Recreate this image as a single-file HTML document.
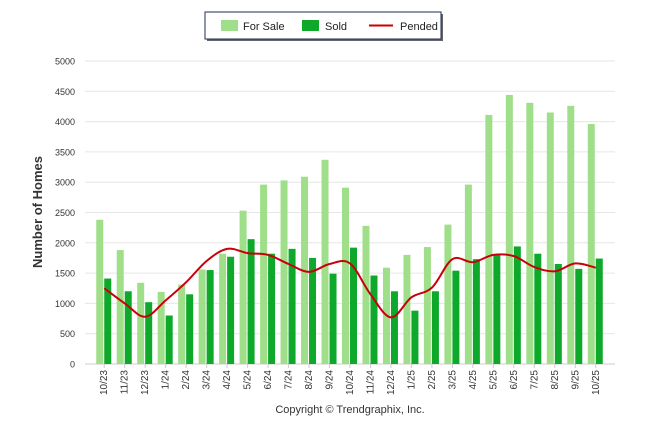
<!DOCTYPE html>
<html><head><meta charset="utf-8"><style>
body{margin:0;background:#fff;font-family:"Liberation Sans",sans-serif;}
</style></head><body>
<svg id="c" width="646" height="434" xmlns="http://www.w3.org/2000/svg">
<g>
<rect x="207" y="14" width="236" height="27" fill="#666"/>
<rect x="205" y="12" width="236" height="27" fill="#fff" stroke="#1f2d5a" stroke-width="1"/>
<rect x="221" y="20" width="17" height="11" fill="#a0df8a"/>
<text x="243" y="30" font-size="11" fill="#222">For Sale</text>
<rect x="302" y="20" width="17" height="11" fill="#0ea82a"/>
<text x="325" y="30" font-size="11" fill="#222">Sold</text>
<line x1="369" y1="25.5" x2="393" y2="25.5" stroke="#c00" stroke-width="2"/>
<text x="400" y="30" font-size="11" fill="#222">Pended</text>
</g>
<text transform="translate(42,212) rotate(-90)" text-anchor="middle" font-size="13" font-weight="bold" fill="#333">Number of Homes</text>
<g id="grid"></g><g id="bars"></g><g id="line"></g><g id="xl"></g>
<text x="350" y="413" text-anchor="middle" font-size="11" fill="#333">Copyright © Trendgraphix, Inc.</text>
</svg>
<script>
const categories=["10/23","11/23","12/23","1/24","2/24","3/24","4/24","5/24","6/24","7/24","8/24","9/24","10/24","11/24","12/24","1/25","2/25","3/25","4/25","5/25","6/25","7/25","8/25","9/25","10/25"];
const forSale=[2380,1880,1340,1190,1310,1560,1820,2530,2960,3030,3090,3370,2910,2280,1590,1800,1930,2300,2960,4110,4440,4310,4150,4260,3960];
const sold=[1410,1200,1020,800,1150,1550,1770,2060,1820,1900,1750,1490,1920,1460,1200,880,1200,1540,1730,1800,1940,1820,1650,1570,1740];
const pended=[1250,1000,780,1050,1350,1700,1900,1830,1800,1650,1520,1650,1660,1150,770,1100,1260,1730,1680,1800,1780,1600,1530,1660,1590];
const yTicks=[0,500,1000,1500,2000,2500,3000,3500,4000,4500,5000];
const NS="http://www.w3.org/2000/svg";
const y0=364,yTop=61,ymax=5000,x0=94,step=20.48;
const Y=v=>y0-(v/ymax)*(y0-yTop);
const X=i=>x0+step*(i+0.5);
function mk(t,a,p){const e=document.createElementNS(NS,t);for(const k in a)e.setAttribute(k,a[k]);p.appendChild(e);return e;}
const g=document.getElementById('grid');
yTicks.forEach(v=>{
 const l=mk('line',{x1:85,x2:615,y1:Y(v),y2:Y(v),stroke:v?'#e6e6e6':'#ccc','stroke-width':1},g);
 
 
 const t=mk('text',{x:75,y:Y(v)+3.5,'text-anchor':'end','font-size':9,fill:'#333'},g);
 t.textContent=v;
 
 
});
const b=document.getElementById('bars'),xl=document.getElementById('xl');
categories.forEach((c,i)=>{
 const cx=X(i);
 const r1=mk('rect',{x:cx-8,y:Y(forSale[i]),width:7,height:y0-Y(forSale[i]),fill:'#a0df8a'},b);
 
 
 const r2=mk('rect',{x:cx,y:Y(sold[i]),width:7,height:y0-Y(sold[i]),fill:'#0ea82a'},b);
 
 
 mk('line',{x1:cx,x2:cx,y1:y0,y2:y0+4,stroke:'#ccc'},xl);
 const t=mk('text',{transform:`translate(${cx+3},${y0+6}) rotate(-90)`,'text-anchor':'end','font-size':10,fill:'#333'},xl);
 t.textContent=c;
 
 
});
const pts=pended.map((v,i)=>[X(i),Y(v)]);
let d=`M${pts[0][0]},${pts[0][1]}`;
for(let i=0;i<pts.length-1;i++){
 const p0=pts[i-1]||pts[i],p1=pts[i],p2=pts[i+1],p3=pts[i+2]||p2;
 d+=` C${p1[0]+(p2[0]-p0[0])/6},${p1[1]+(p2[1]-p0[1])/6} ${p2[0]-(p3[0]-p1[0])/6},${p2[1]-(p3[1]-p1[1])/6} ${p2[0]},${p2[1]}`;
}
const ln=mk('path',{d:d,fill:'none',stroke:'#c8000a','stroke-width':2},document.getElementById('line'));


</script>
</body></html>
